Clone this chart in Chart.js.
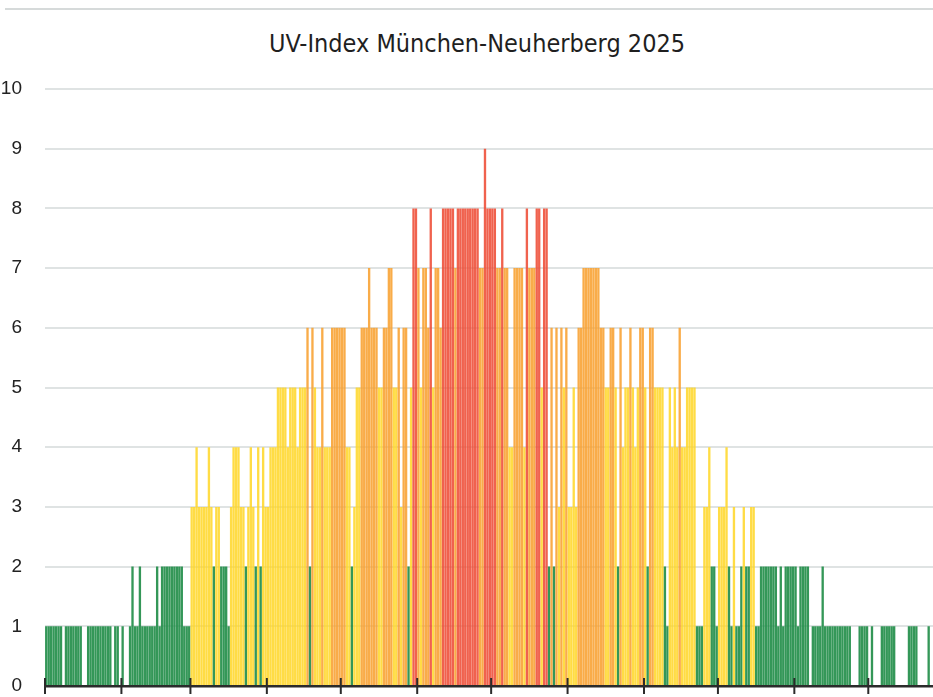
<!DOCTYPE html>
<html>
<head>
<meta charset="utf-8">
<title>UV-Index München-Neuherberg 2025</title>
<script src="https://cdn.jsdelivr.net/npm/chart.js@4.4.1/dist/chart.umd.min.js"></script>
<style>
  html, body { margin: 0; padding: 0; background: #fff; overflow: hidden; }
  body { width: 933px; height: 697px; position: relative; }
  #frame { position: absolute; left: 5px; right: 0; top: 8px; border-top: 2px solid #d6dada; }
  #title { position: absolute; top: 29px; left: 0; width: 954px; line-height: 30px; text-align: center;
           font-family: "DejaVu Sans Condensed", "Liberation Sans", sans-serif; font-size: 25px; color: #1f1f1f; }
  #wrap { position: absolute; left: -4px; top: 0; width: 960px; height: 697px; overflow: hidden; }
</style>
</head>
<body>
<div id="frame"></div>
<div id="title">UV-Index München-Neuherberg 2025</div>
<div id="wrap"><canvas id="uvChart" width="960" height="697"></canvas></div>
<script>
// daily UV index
const jan = [1,1,1,1,1,1,1,0,1,1,1,1,1,1,1,0,0,1,1,1,1,1,1,1,1,1,1,0,1,1,0];
const feb = [1,0,0,1,2,1,1,2,1,1,1,1,1,1,2,1,2,2,2,2,2,2,2,2,2,1,1,1];
const mar = [3,3,4,3,3,3,3,4,3,2,3,3,2,2,2,1,3,4,4,4,3,3,2,3,4,3,2,4,2,4,3];
const apr = [3,4,4,4,5,5,5,5,4,5,5,5,4,5,5,5,6,2,6,5,4,4,6,4,4,4,6,6,6,6];
const may = [6,6,4,4,2,3,5,5,6,6,6,7,6,6,6,5,5,6,6,7,7,5,5,6,3,6,6,2,5,8,8];
const jun = [7,5,7,7,6,8,5,7,7,6,8,8,8,8,8,7,8,8,8,8,8,8,8,8,8,7,7,9,8,8];
const jul = [8,8,7,7,8,7,7,4,4,7,7,7,7,4,8,7,7,7,8,8,5,8,8,2,6,2,6,3,6,5,6];
const aug = [3,3,5,3,6,6,7,7,7,7,7,7,7,6,6,5,5,6,6,5,2,6,4,5,5,6,5,4,5,6,6];
const sep = [5,2,6,6,5,5,5,5,2,1,5,4,5,4,6,4,4,5,5,5,5,1,1,1,3,3,4,2,2,1];
const oct = [3,3,3,4,2,1,3,1,1,2,3,2,2,3,3,1,1,2,2,2,2,2,2,2,1,2,1,2,2,2,2];
const nov = [2,1,2,2,2,2,0,1,1,1,1,2,1,1,1,1,1,1,1,1,1,1,1,0,0,0,1,1,1,1];
const dec = [0,1,0,0,0,1,1,1,1,1,1,0,0,0,0,0,1,1,1,1,0,0,0,0,1,0,0,1,1,0,1];

const months = [jan, feb, mar, apr, may, jun, jul, aug, sep, oct, nov, dec];
const yTicks = [0,1,2,3,4,5,6,7,8,9,10];

let uvIndex = [];
let dayLabels = [];
let monthStarts = [];
months.forEach(function(m, mi) {
    monthStarts.push(dayLabels.length);
    m.forEach(function(v, di) {
        uvIndex.push(v);
        dayLabels.push((di + 1) + '.' + (mi + 1) + '.2025');
    });
});

function uvColor(v)
{
    if (v <= 2) return 'rgba(30,140,70,0.9)';
    if (v <= 5) return 'rgba(255,214,36,0.85)';
    if (v <= 7) return 'rgba(248,160,48,0.88)';
    return 'rgba(238,76,54,0.88)';
}

// small tick marks crossing the axis line at each month start
const monthTicks = {
    id: 'monthTicks',
    afterDraw(chart) {
        const xs = chart.scales.x;
        const bottom = chart.chartArea.bottom;
        const c = chart.ctx;
        const half = (xs.getPixelForValue(1) - xs.getPixelForValue(0)) / 2;
        c.save();
        c.strokeStyle = '#2b2b2b';
        c.lineWidth = 2;
        monthStarts.forEach(function(i) {
            const x = xs.getPixelForValue(i) - half;
            c.beginPath();
            c.moveTo(x, bottom - 8);
            c.lineTo(x, bottom + 8);
            c.stroke();
        });
        c.restore();
    }
};

const tickFont = { family: '"Liberation Sans", "DejaVu Sans", sans-serif', size: 19 };

new Chart(document.getElementById('uvChart'), {
    type: 'bar',
    data: {
        labels: dayLabels,
        datasets: [{
            data: uvIndex,
            backgroundColor: uvIndex.map(uvColor),
            borderWidth: 0,
            barPercentage: 0.95,
            categoryPercentage: 1
        }]
    },
    options: {
        responsive: false,
        animation: false,
        layout: { padding: { top: 89, bottom: 11, left: 5, right: 11.3 } },
        plugins: {
            legend: { display: false },
            tooltip: { enabled: false }
        },
        scales: {
            x: {
                afterFit(scale) { scale.height = 0; },
                grid: { display: false },
                ticks: { display: false },
                border: { display: true, color: '#2b2b2b', width: 2.5 }
            },
            y: {
                min: 0,
                max: 10,
                afterFit(scale) {
                    scale.width = 44;
                    scale.paddingTop = 0;
                    scale.paddingBottom = 0;
                },
                afterBuildTicks(scale) { scale.ticks = yTicks.map(v => ({ value: v })); },
                ticks: { padding: 23, color: '#222', font: tickFont },
                grid: { color: '#dfe3e3', lineWidth: 2, drawTicks: false },
                border: { display: false }
            }
        }
    },
    plugins: [monthTicks]
});
</script>
</body>
</html>
